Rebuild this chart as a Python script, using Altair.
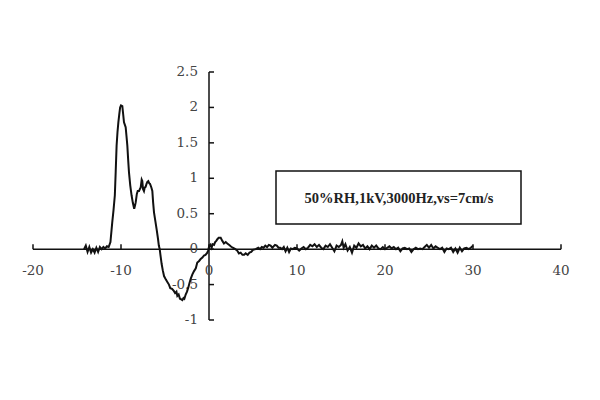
import altair as alt
import pandas as pd

# ---- data ----
trace_x = [
    -14.2, -14.0, -13.8, -13.6, -13.4, -13.2, -13.0, -12.8, -12.6, -12.4, -12.2, -12.0, -11.8, -11.6, -11.4,
    -11.2, -11.0, -10.85, -10.7, -10.6, -10.5, -10.4, -10.3, -10.2, -10.1, -10.0, -9.85, -9.75, -9.66,
    -9.55, -9.47, -9.38, -9.28, -9.18, -9.09, -8.95, -8.8, -8.65, -8.5, -8.4, -8.33, -8.2, -8.1, -7.95,
    -7.85, -7.76, -7.65, -7.58, -7.5, -7.39, -7.3, -7.2, -7.1, -7.0, -6.9, -6.8, -6.7, -6.55, -6.44,
    -6.35, -6.25, -6.1, -5.95, -5.8, -5.7, -5.6, -5.5, -5.38, -5.25, -5.11, -4.9, -4.7, -4.55, -4.4,
    -4.2, -4.0, -3.85, -3.7, -3.6, -3.45, -3.3, -3.15, -3.03, -2.9, -2.8, -2.65, -2.5, -2.35, -2.2,
    -2.08, -1.9, -1.7, -1.5, -1.33, -1.15, -0.95, -0.75, -0.57, -0.4, -0.19, -0.1, 0.0, 0.15, 0.3,
    0.4, 0.57, 0.7, 0.85, 0.95, 1.1, 1.33, 1.5, 1.7, 1.9, 2.08, 2.3, 2.46, 2.7, 3.0, 3.2, 3.4, 3.6,
    3.8, 4.0, 4.17, 4.4, 4.6, 4.8, 5.0, 5.3, 5.6, 5.8, 6.0, 6.2, 6.4, 6.6, 6.8, 7.0, 7.2, 7.5, 7.7,
    7.9, 8.1, 8.3, 8.5, 8.7, 8.9, 9.1, 9.3, 9.5, 9.75, 10.0, 10.25, 10.5, 10.75, 11.0, 11.25, 11.5,
    11.75, 12.0, 12.25, 12.5, 12.75, 13.0, 13.25, 13.5, 13.75, 14.0, 14.25, 14.5, 14.75, 15.0, 15.15,
    15.3, 15.5, 15.75, 16.0, 16.25, 16.5, 16.75, 17.0, 17.25, 17.5, 17.75, 18.0, 18.25, 18.5, 18.75,
    19.0, 19.25, 19.5, 19.75, 20.0, 20.25, 20.5, 20.75, 21.0, 21.25, 21.5, 21.75, 22.0, 22.25, 22.5,
    22.75, 23.0, 23.25, 23.5, 23.75, 24.0, 24.25, 24.5, 24.75, 25.0, 25.25, 25.5, 25.75, 26.0, 26.25,
    26.5, 26.75, 27.0, 27.25, 27.5, 27.75, 28.0, 28.25, 28.5, 28.75, 29.0, 29.25, 29.5, 29.75, 30.0,
]
trace_y = [
    0.0, 0.05, -0.04, 0.03, -0.05, 0.0, -0.05, 0.02, -0.04, 0.03, 0.0, 0.03, 0.01, 0.04, 0.03,
    0.1, 0.37, 0.55, 0.76, 1.1, 1.46, 1.65, 1.79, 1.9, 2.0, 2.03, 2.02, 1.9, 1.79,
    1.75, 1.72, 1.6, 1.46, 1.25, 1.08, 0.9, 0.76, 0.65, 0.57, 0.62, 0.66, 0.78, 0.82, 0.82,
    0.85, 0.87, 0.98, 0.96, 0.85, 0.82, 0.87, 0.88, 0.92, 0.95, 0.96, 0.93, 0.92, 0.87, 0.82,
    0.66, 0.52, 0.4, 0.28, 0.15, 0.05, 0.0, -0.1, -0.21, -0.3, -0.38, -0.43, -0.47, -0.5, -0.55,
    -0.56, -0.59, -0.62, -0.6, -0.66, -0.64, -0.7, -0.71, -0.72, -0.69, -0.7, -0.64, -0.6, -0.54, -0.47,
    -0.42, -0.36, -0.31, -0.27, -0.19, -0.17, -0.14, -0.12, -0.09, -0.08, -0.05, -0.02, 0.03, 0.06, 0.02,
    0.07, 0.06, 0.1, 0.12, 0.14, 0.16, 0.16, 0.12, 0.08, 0.1, 0.08, 0.06, 0.04, 0.02, 0.0, -0.02, -0.06, -0.05,
    -0.08, -0.08, -0.06, -0.08, -0.05, -0.04, -0.01, 0.0, 0.02, 0.0, 0.03, 0.02, 0.05, 0.03, 0.06, 0.05, 0.02, 0.06, 0.05,
    0.02, 0.02, 0.0, 0.03, -0.03, 0.02, -0.04, 0.01, 0.0, 0.02, 0.01, -0.02, 0.01, 0.03, 0.0, 0.02, 0.06,
    0.04, 0.07, 0.03, 0.06, 0.02, 0.0, 0.05, 0.03, 0.07, 0.02, -0.03, 0.05, 0.03, 0.06, 0.11,
    0.02, 0.07, -0.02, 0.03, -0.05, 0.05, 0.02, 0.08, 0.04, 0.06, 0.01, 0.04, 0.0, 0.05, 0.02,
    0.05, 0.01, 0.0, 0.03, 0.0, 0.02, 0.04, 0.01, 0.03, 0.0, 0.02, -0.03, 0.01, 0.02, 0.0,
    0.01, -0.04, 0.0, 0.02, 0.0, 0.01, 0.0, 0.03, 0.06, 0.02, 0.06, 0.01, 0.04, 0.02, 0.0,
    0.02, -0.04, 0.01, 0.0, 0.02, -0.04, 0.01, -0.05, 0.02, -0.03, 0.01, 0.02, 0.0, 0.02, 0.05,
]
x_ticks = [-20, -10, 0, 10, 20, 30, 40]
x_labels = ["-20", "-10", "0", "10", "20", "30", "40"]
y_ticks = [-1, -0.5, 0, 0.5, 1, 1.5, 2, 2.5]
y_labels = ["-1", "-0.5", "0", "0.5", "1", "1.5", "2", "2.5"]
annotation = "50%RH,1kV,3000Hz,vs=7cm/s"

# ---- tables ----
trace = pd.DataFrame({"x": trace_x, "y": trace_y})
xt = pd.DataFrame({"v": x_ticks, "label": x_labels, "zero": [0] * len(x_ticks)})
yt = pd.DataFrame({"v": y_ticks, "label": y_labels, "zero": [0] * len(y_ticks)})
xaxis_df = pd.DataFrame({"a": [x_ticks[0]], "b": [x_ticks[-1]], "zero": [0]})
yaxis_df = pd.DataFrame({"a": [y_ticks[0]], "b": [y_ticks[-1]], "zero": [0]})
ann = pd.DataFrame({"text": [annotation]})

xs = alt.Scale(domain=[-20, 40], nice=False, zero=False)
ys = alt.Scale(domain=[-1, 2.5], nice=False, zero=False)
LABEL_FONT = "DejaVu Serif"
INK = "#111111"

line = alt.Chart(trace).mark_line(color=INK, strokeWidth=2).encode(
    x=alt.X("x:Q", scale=xs, axis=None),
    y=alt.Y("y:Q", scale=ys, axis=None),
)

x_axis_line = alt.Chart(xaxis_df).mark_rule(color=INK, strokeWidth=1.5).encode(
    x=alt.X("a:Q", scale=xs, axis=None), x2="b:Q", y=alt.Y("zero:Q", scale=ys, axis=None)
)
y_axis_line = alt.Chart(yaxis_df).mark_rule(color=INK, strokeWidth=1.5).encode(
    y=alt.Y("a:Q", scale=ys, axis=None), y2="b:Q", x=alt.X("zero:Q", scale=xs, axis=None)
)
x_tick_marks = alt.Chart(xt).mark_rule(color=INK, strokeWidth=1.5, y2Offset=-5).encode(
    x=alt.X("v:Q", scale=xs, axis=None), y=alt.Y("zero:Q", scale=ys, axis=None), y2="zero:Q"
)
y_tick_marks = alt.Chart(yt).mark_rule(color=INK, strokeWidth=1.5, x2Offset=5).encode(
    y=alt.Y("v:Q", scale=ys, axis=None), x=alt.X("zero:Q", scale=xs, axis=None), x2="zero:Q"
)
x_text = alt.Chart(xt).mark_text(
    font=LABEL_FONT, fontSize=13.5, fontWeight=300, color="#444444", dy=22, baseline="middle", align="center"
).encode(x=alt.X("v:Q", scale=xs, axis=None), y=alt.Y("zero:Q", scale=ys, axis=None), text="label:N")
y_text = alt.Chart(yt).mark_text(
    font=LABEL_FONT, fontSize=13.5, fontWeight=300, color="#444444", dx=-11, baseline="middle", align="right"
).encode(y=alt.Y("v:Q", scale=ys, axis=None), x=alt.X("zero:Q", scale=xs, axis=None), text="label:N")

box = alt.Chart(ann).mark_rect(fill="white", stroke=INK, strokeWidth=1.5).encode(
    x=alt.value(243), x2=alt.value(488), y=alt.value(99), y2=alt.value(152)
)
box_text = alt.Chart(ann).mark_text(
    font="Liberation Serif", fontSize=14.5, fontWeight="bold", color="#222222", align="center", baseline="middle"
).encode(x=alt.value(366), y=alt.value(127), text="text:N")

chart = alt.layer(
    x_axis_line, y_axis_line, x_tick_marks, y_tick_marks, x_text, y_text, line, box, box_text
).properties(
    width=528, height=248,
    autosize=alt.AutoSizeParams(type="none"),
    padding={"left": 25, "top": 64, "right": 30, "bottom": 60},
).configure_view(stroke=None)

chart.save("out.html", embed_options={"renderer": "svg", "actions": False})
